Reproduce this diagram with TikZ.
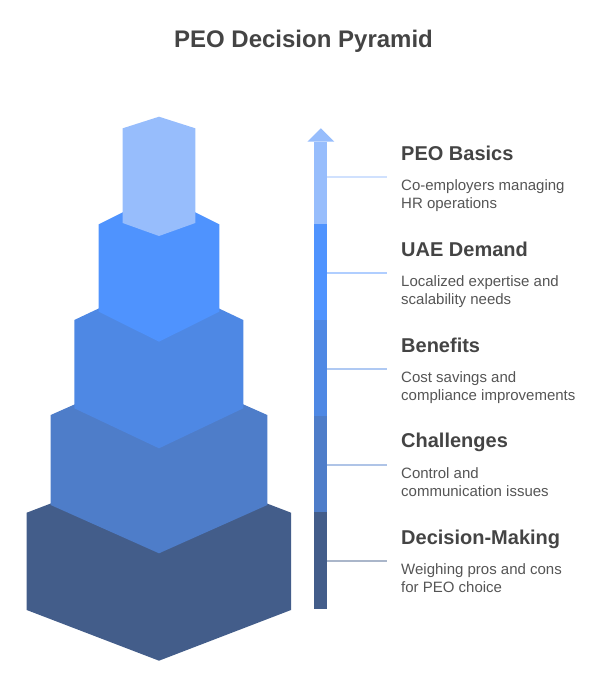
\documentclass[tikz,border=0pt]{standalone}
\usepackage{fontspec}
\setmainfont{Liberation Sans}
\definecolor{cA}{HTML}{97BDFC}
\definecolor{cB}{HTML}{4F93FE}
\definecolor{cC}{HTML}{4E88E4}
\definecolor{cD}{HTML}{4E7DC9}
\definecolor{cE}{HTML}{435D8A}
\definecolor{txtdark}{HTML}{444444}
\definecolor{txtdesc}{HTML}{555555}
\tikzset{
  titletext/.style={font=\fontsize{24}{28}\selectfont\bfseries, text=txtdark, inner sep=0pt, anchor=base},
  headtext/.style={font=\fontsize{20}{24}\selectfont\bfseries, text=txtdark, inner sep=0pt, anchor=base west},
  desctext/.style={font=\fontsize{15}{18}\selectfont, text=txtdesc, inner sep=0pt, anchor=north west, align=left},
  tick/.style={line width=2pt, opacity=0.45},
}
\begin{document}
\begin{tikzpicture}[x=1pt,y=-1pt]
\useasboundingbox (0,0) rectangle (614,680);
% title
\node[titletext] (title) at (303.5,47.3) {PEO Decision Pyramid};
% pyramid blocks (bottom first)
\fill[cE] (26.7,512.7) -- (159,462) -- (291,512.7) -- (291,610) -- (159,660.7) -- (26.7,610) -- cycle;
\fill[cD] (50.7,415) -- (159,367) -- (267.3,415) -- (267.3,505) -- (159,553.3) -- (50.7,505) -- cycle;
\fill[cC] (74.3,320) -- (159,280) -- (243.3,320) -- (243.3,408.3) -- (159,448.3) -- (74.3,408.3) -- cycle;
\fill[cB] (98.7,224.3) -- (159,194.3) -- (219.3,224.3) -- (219.3,311.7) -- (159,341.7) -- (98.7,311.7) -- cycle;
\fill[cA] (122.7,128.3) -- (159,116.7) -- (195.3,128.3) -- (195.3,223) -- (159,236) -- (122.7,223) -- cycle;
% arrow bar
\fill[cA] (314.3,141.7) rectangle (327.3,224.3);
\fill[cA] (307.3,141.7) -- (320.8,128.3) -- (334.3,141.7) -- cycle;
\fill[cB] (314.3,224.3) rectangle (327.3,320.3);
\fill[cC] (314.3,320.3) rectangle (327.3,416.3);
\fill[cD] (314.3,416.3) rectangle (327.3,512.3);
\fill[cE] (314.3,512.3) rectangle (327.3,609);
% connectors
\coordinate (t1) at (327.3,177);
\coordinate (t2) at (327.3,272.7);
\coordinate (t3) at (327.3,368.7);
\coordinate (t4) at (327.3,464.7);
\coordinate (t5) at (327.3,560.7);
\coordinate (e1) at (387,177);
\coordinate (e2) at (387,272.7);
\coordinate (e3) at (387,368.7);
\coordinate (e4) at (387,464.7);
\coordinate (e5) at (387,560.7);
\draw[tick, cA] (t1) -- (e1);
\draw[tick, cB] (t2) -- (e2);
\draw[tick, cC] (t3) -- (e3);
\draw[tick, cD] (t4) -- (e4);
\draw[tick, cE] (t5) -- (e5);
% labels
\node[headtext] (h1) at (401,160) {PEO Basics};
\node[desctext] (d1) at (401,179.5) {Co-employers managing\\HR operations};
\node[headtext] (h2) at (401,256) {UAE Demand};
\node[desctext] (d2) at (401,275.5) {Localized expertise and\\scalability needs};
\node[headtext] (h3) at (401,352) {Benefits};
\node[desctext] (d3) at (401,371.5) {Cost savings and\\compliance improvements};
\node[headtext] (h4) at (401,447) {Challenges};
\node[desctext] (d4) at (401,467.5) {Control and\\communication issues};
\node[headtext] (h5) at (401,544) {Decision-Making};
\node[desctext] (d5) at (401,563.5) {Weighing pros and cons\\for PEO choice};
\end{tikzpicture}
\end{document}
